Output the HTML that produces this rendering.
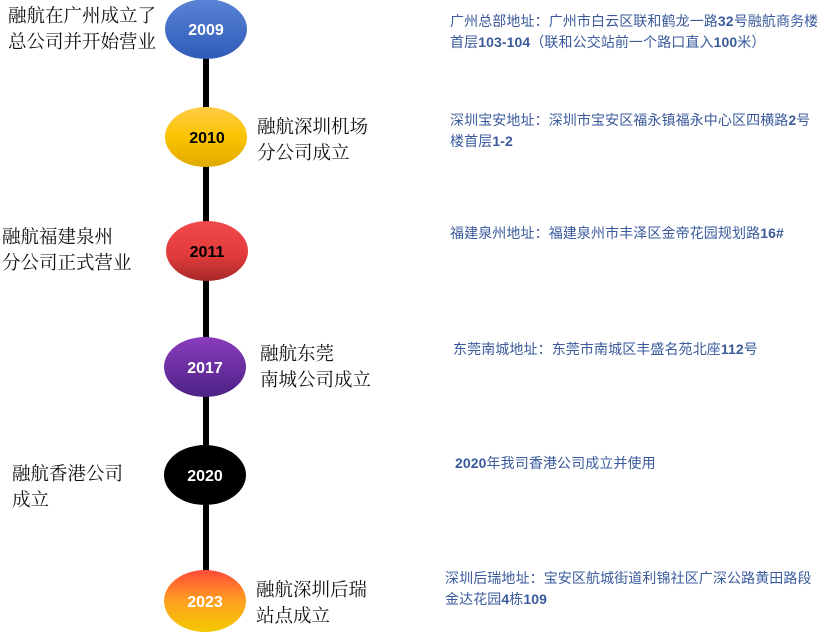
<!DOCTYPE html>
<html><head><meta charset="utf-8"><style>
body{margin:0;width:837px;height:644px;background:#fff;position:relative;overflow:hidden;font-family:"Liberation Sans","Noto Sans CJK SC",sans-serif}
.l{position:absolute;font-family:"Liberation Serif","Noto Serif CJK SC",serif;font-size:18.5px;line-height:26px;color:#111;white-space:nowrap}
.r{position:absolute;font-size:14px;letter-spacing:0.1px;line-height:21px;color:#3a5a9c;white-space:nowrap}
.r b{font-weight:bold}
svg{position:absolute;left:0;top:0}
</style></head><body>
<svg width="837" height="644">
<defs>
<linearGradient id="g1" x1="0" y1="0" x2="0" y2="1"><stop offset="0" stop-color="#5a83d6"/><stop offset="1" stop-color="#2e5cb8"/></linearGradient>
<linearGradient id="g2" x1="0" y1="0" x2="0" y2="1"><stop offset="0" stop-color="#ffcc44"/><stop offset="0.5" stop-color="#fbc300"/><stop offset="1" stop-color="#e0aa00"/></linearGradient>
<linearGradient id="g3" x1="0" y1="0" x2="0" y2="1"><stop offset="0" stop-color="#f04a4a"/><stop offset="0.6" stop-color="#e03a3a"/><stop offset="1" stop-color="#a52828"/></linearGradient>
<linearGradient id="g4" x1="0" y1="0" x2="0" y2="1"><stop offset="0" stop-color="#8a3cbc"/><stop offset="1" stop-color="#4e2286"/></linearGradient>
<linearGradient id="g6" x1="0" y1="0" x2="0" y2="1"><stop offset="0" stop-color="#ff4a3a"/><stop offset="0.5" stop-color="#ffa020"/><stop offset="1" stop-color="#f5c800"/></linearGradient>
</defs>
<rect x="203" y="55" width="6" height="525" fill="#000"/>
<ellipse cx="206" cy="29" rx="41" ry="30" fill="url(#g1)"/>
<ellipse cx="206" cy="137" rx="41" ry="30" fill="url(#g2)"/>
<ellipse cx="207" cy="251" rx="41" ry="30" fill="url(#g3)"/>
<ellipse cx="205" cy="367" rx="41" ry="30" fill="url(#g4)"/>
<ellipse cx="205" cy="475" rx="41" ry="30" fill="#000"/>
<ellipse cx="205" cy="601" rx="41" ry="31" fill="url(#g6)"/>
<g font-family="Liberation Sans, sans-serif" font-weight="bold" font-size="16" text-anchor="middle">
<text x="206" y="35" fill="#fff">2009</text>
<text x="207" y="143" fill="#000">2010</text>
<text x="207" y="257" fill="#000">2011</text>
<text x="205" y="373" fill="#fff">2017</text>
<text x="205" y="481" fill="#fff">2020</text>
<text x="205" y="607" fill="#fff">2023</text>
</g>
</svg>
<div class="l" style="left:8px;top:4px">融航在广州成立了<br>总公司并开始营业</div>
<div class="l" style="left:257px;top:115px">融航深圳机场<br>分公司成立</div>
<div class="l" style="left:2px;top:225px">融航福建泉州<br>分公司正式营业</div>
<div class="l" style="left:260px;top:342px">融航东莞<br>南城公司成立</div>
<div class="l" style="left:12px;top:462px">融航香港公司<br>成立</div>
<div class="l" style="left:256px;top:578px">融航深圳后瑞<br>站点成立</div>
<div class="r" style="left:450px;top:11px">广州总部地址：广州市白云区联和鹤龙一路<b>32</b>号融航商务楼<br>首层<b>103-104</b>（联和公交站前一个路口直入<b>100</b>米）</div>
<div class="r" style="left:450px;top:110px">深圳宝安地址：深圳市宝安区福永镇福永中心区四横路<b>2</b>号<br>楼首层<b>1-2</b></div>
<div class="r" style="left:450px;top:223px">福建泉州地址：福建泉州市丰泽区金帝花园规划路<b>16#</b></div>
<div class="r" style="left:453px;top:339px">东莞南城地址：东莞市南城区丰盛名苑北座<b>112</b>号</div>
<div class="r" style="left:455px;top:453px"><b>2020</b>年我司香港公司成立并使用</div>
<div class="r" style="left:445px;top:568px">深圳后瑞地址：宝安区航城街道利锦社区广深公路黄田路段<br>金达花园<b>4</b>栋<b>109</b></div>
</body></html>
